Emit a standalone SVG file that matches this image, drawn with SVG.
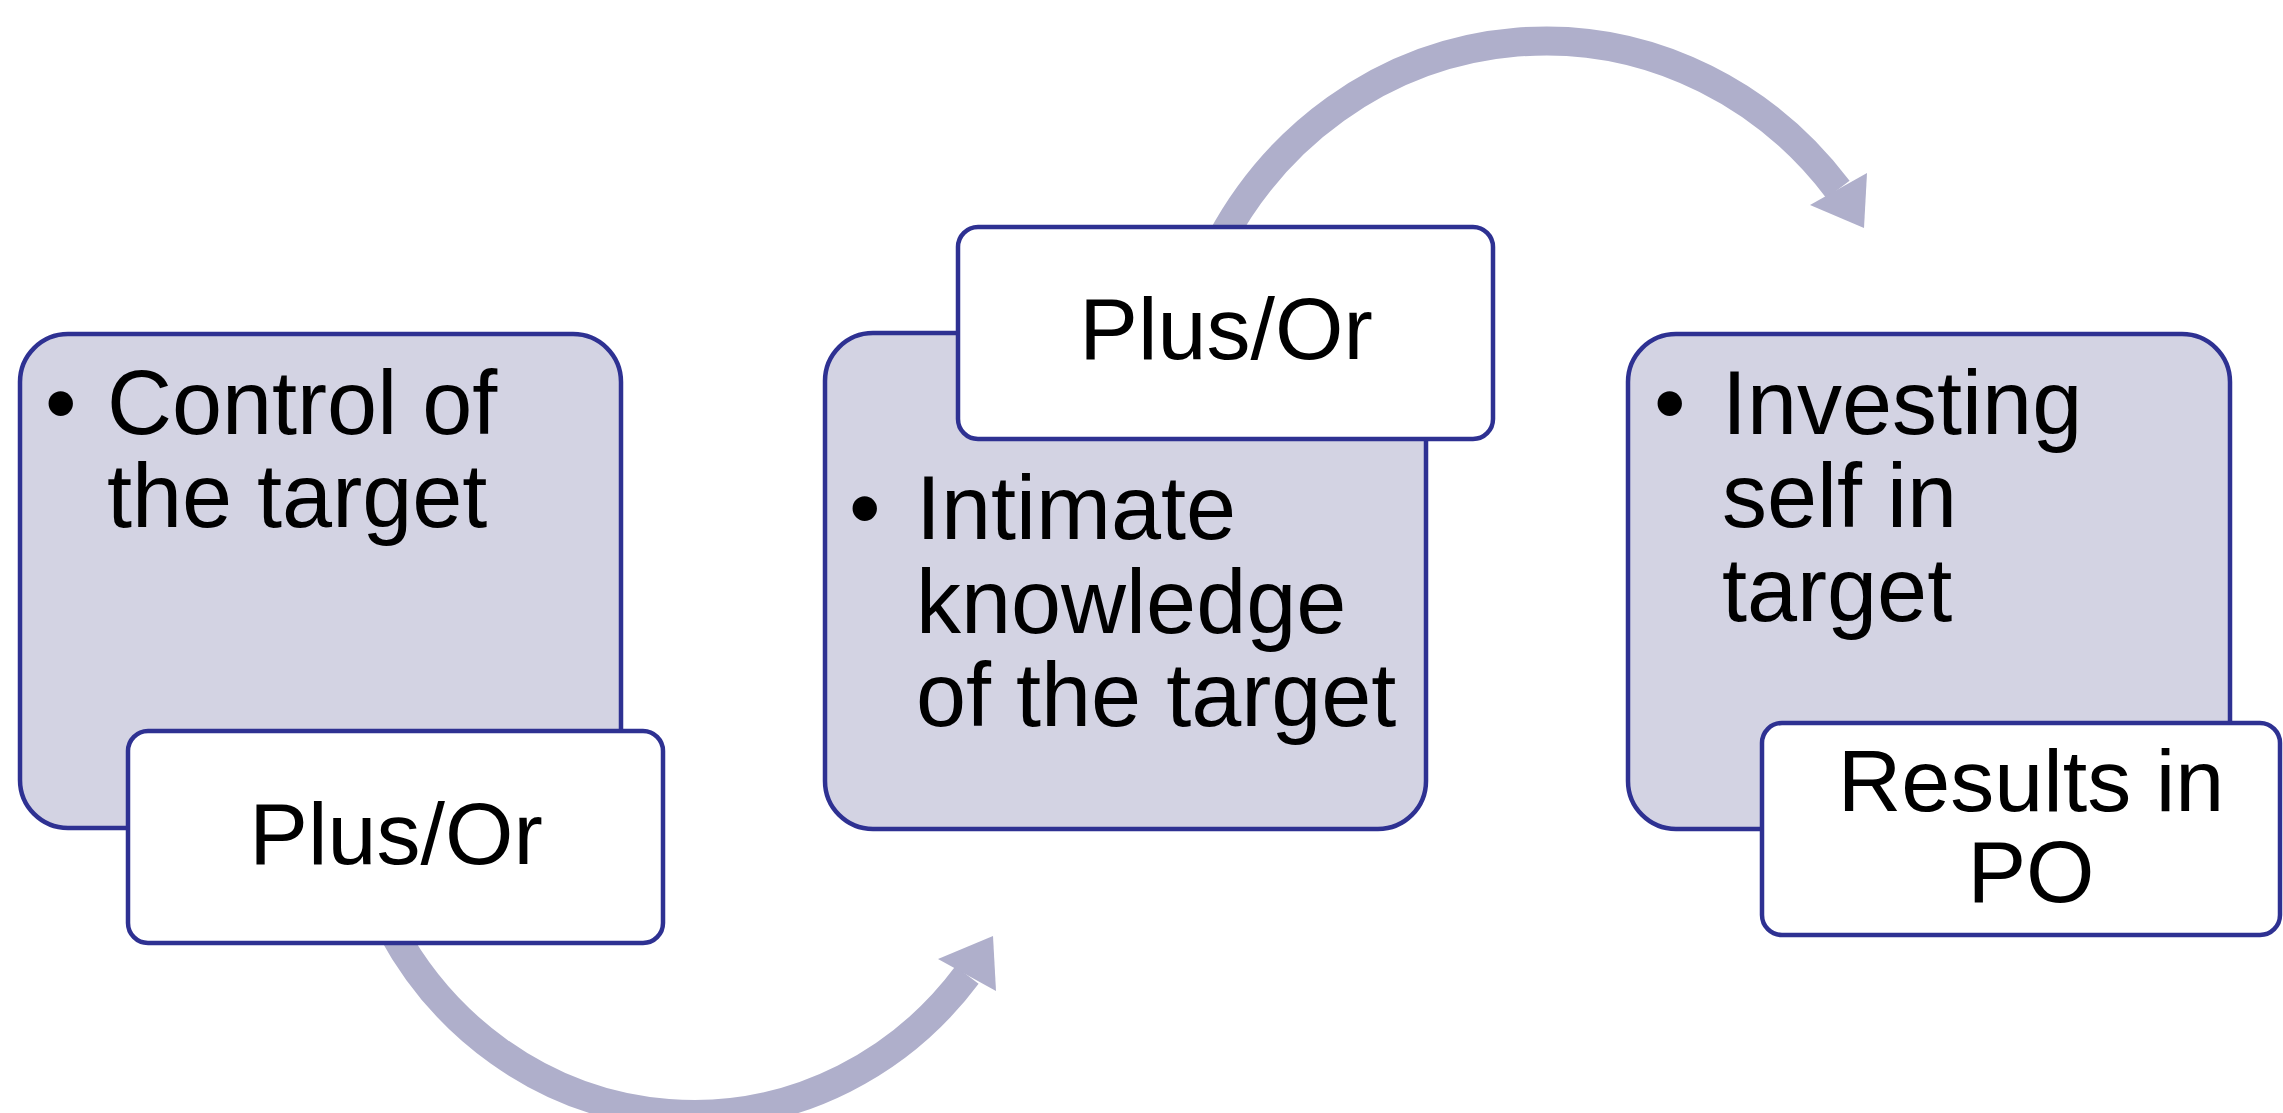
<svg xmlns="http://www.w3.org/2000/svg" width="2283" height="1113" viewBox="0 0 2283 1113">
<style>
.big{fill:#D3D3E3;stroke:#2E3192;stroke-width:4.5}
.tag{fill:#FFFFFF;stroke:#2E3192;stroke-width:4.5}
.t{font-family:"Liberation Sans",Arial,sans-serif;font-size:90px;fill:#000}
.c{font-family:"Liberation Sans",Arial,sans-serif;font-size:88px;fill:#000;text-anchor:middle}
.arc{fill:none;stroke:#AFAFCB;stroke-width:29;stroke-linecap:butt}
.head{fill:#AFAFCB}
</style>
<rect width="2283" height="1113" fill="#FFFFFF"/>
<g id="connectors">
<path class="arc" d="M 1221,240 A 373 392 0 0 1 1838,189.5"/>
<polygon class="head" points="1810,205 1867,173 1864,228"/>
<path class="arc" d="M 392,930 A 347 364 0 0 0 967,975"/>
<polygon class="head" points="938,959 993,936 996,991"/>
</g>
<g id="node1">
<rect class="big" x="20" y="334" width="601" height="494" rx="48"/>
<text class="t" x="45" y="434">•</text>
<text class="t" x="107" y="434">Control of</text>
<text class="t" x="107" y="527">the target</text>
</g>
<g id="node1-tag">
<rect class="tag" x="128" y="731" width="535" height="212" rx="20"/>
<text class="c" x="396" y="864">Plus/Or</text>
</g>
<g id="node2">
<rect class="big" x="825" y="333" width="601" height="496" rx="48"/>
<text class="t" x="849" y="539">•</text>
<text class="t" x="916" y="539">Intimate</text>
<text class="t" x="916" y="633">knowledge</text>
<text class="t" x="916" y="726">of the target</text>
</g>
<g id="node2-tag">
<rect class="tag" x="958" y="227" width="535" height="212" rx="20"/>
<text class="c" x="1226" y="359">Plus/Or</text>
</g>
<g id="node3">
<rect class="big" x="1628" y="334" width="602" height="495" rx="48"/>
<text class="t" x="1654" y="434">•</text>
<text class="t" x="1722" y="434">Investing</text>
<text class="t" x="1722" y="527">self in</text>
<text class="t" x="1722" y="621">target</text>
</g>
<g id="node3-tag">
<rect class="tag" x="1762" y="723" width="518" height="212" rx="20"/>
<text class="c" x="2031" y="811">Results in</text>
<text class="c" x="2031" y="902">PO</text>
</g>
</svg>
